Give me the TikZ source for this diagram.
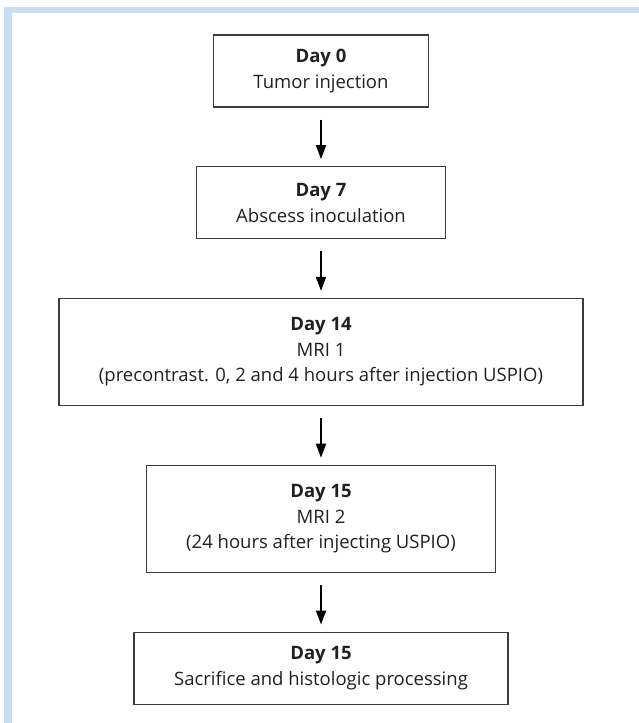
\documentclass[tikz,border=0pt]{standalone}
\usepackage{fontspec}
\setmainfont{Open Sans}
\usetikzlibrary{positioning,arrows.meta}

\definecolor{frameblue}{HTML}{C6E0EF}
\definecolor{textgray}{HTML}{231F20}
\definecolor{boxgray}{HTML}{3C3C3C}

\tikzset{
  timeline/.style={
    node distance=58.5pt,
    every node/.style={
        draw=boxgray,
        line width=1.3pt,
        text=textgray,
        align=center,
        inner xsep=40pt,
        inner ysep=0pt,
        font=\fontsize{18.5}{25.5}\selectfont,
    },
    twoline/.style={minimum height=72pt},
    threeline/.style={minimum height=107pt},
    stepto/.style={
        draw=black,
        line width=1.8pt,
        -{Triangle[length=14pt,width=10pt]},
        shorten <=12pt,
        shorten >=7pt,
    },
  }
}

\begin{document}
\begin{tikzpicture}[timeline]
        \useasboundingbox (0pt,0pt) rectangle (639pt,723pt);
        % light blue frame, top and left
        \fill[frameblue] (4pt,716pt) rectangle (639pt,710pt);
        \fill[frameblue] (4pt,716pt) rectangle (12pt,0pt);

        \node[twoline] (day0) at (321pt,652pt) {\textbf{Day 0}\\Tumor injection};
        \node[twoline, below=of day0] (day7) {\textbf{Day 7}\\Abscess inoculation};
        \node[threeline, below=of day7] (day14)
            {\textbf{Day 14}\\MRI 1\\(precontrast. 0, 2 and 4 hours after injection USPIO)};
        \node[threeline, below=of day14] (day15)
            {\textbf{Day 15}\\MRI 2\\(24 hours after injecting USPIO)};
        \node[twoline, below=of day15] (sacrifice)
            {\textbf{Day 15}\\Sacrifice and histologic processing};

        \draw[stepto] (day0) -- (day7);
        \draw[stepto] (day7) -- (day14);
        \draw[stepto] (day14) -- (day15);
        \draw[stepto] (day15) -- (sacrifice);
\end{tikzpicture}
\end{document}
